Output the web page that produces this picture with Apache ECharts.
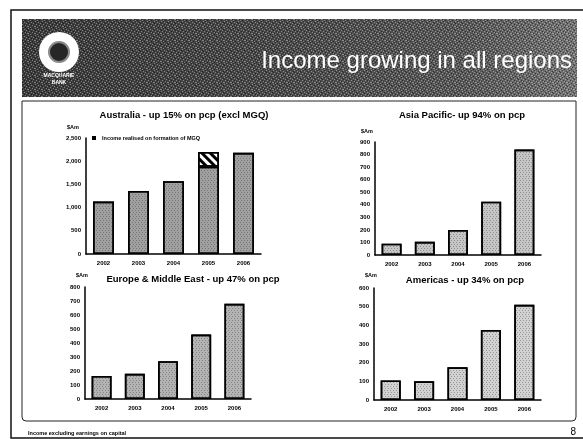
<!DOCTYPE html>
<html>
<head>
<meta charset="utf-8">
<script src="https://cdn.jsdelivr.net/npm/echarts@6/dist/echarts.min.js"></script>
<style>
  html, body { margin: 0; padding: 0; background: #fff; }
  #chart { width: 583px; height: 439px; }
</style>
</head>
<body>
<div id="chart"></div>
<script>
// Income by region, $Am
var years = ['2002', '2003', '2004', '2005', '2006'];

var australia = [1130, 1360, 1570, 1880, 2180];
var australiaMGQ = [null, null, null, 320, null];   // income realised on formation of MGQ
var asiaPacific = [90, 105, 200, 425, 840];
var europeME = [165, 180, 270, 460, 680];
var americas = [105, 100, 175, 375, 510];

var ausTicks = ['0', '500', '1,000', '1,500', '2,000', '2,500'];
var asiaTicks = ['0', '100', '200', '300', '400', '500', '600', '700', '800', '900'];
var europeTicks = ['0', '100', '200', '300', '400', '500', '600', '700', '800'];
var americasTicks = ['0', '100', '200', '300', '400', '500', '600'];

var FONT = '"Liberation Sans", Arial, sans-serif';

// small speckle tile laid over the header band
function speckleTile() {
  var c = document.createElement('canvas');
  c.width = 7; c.height = 7;
  var g = c.getContext('2d');
  var light = [[0, 0], [3, 1], [5, 2], [1, 3], [4, 4], [6, 5], [2, 6], [0, 5]];
  var dark = [[2, 0], [6, 1], [0, 2], [3, 3], [5, 4], [1, 5], [4, 6]];
  g.fillStyle = 'rgba(255,255,255,0.35)';
  light.forEach(function (p) { g.fillRect(p[0], p[1], 1, 1); });
  g.fillStyle = 'rgba(0,0,0,0.45)';
  dark.forEach(function (p) { g.fillRect(p[0], p[1], 1, 1); });
  return c;
}

function stipple(base) {
  return {
    color: base,
    borderColor: '#000',
    borderWidth: 1.6,
    decal: {
      symbol: 'rect',
      symbolSize: 1,
      color: 'rgba(40,40,40,0.35)',
      dashArrayX: [[1, 2], [0, 1, 1, 1]],
      dashArrayY: [1, 1]
    }
  };
}

function yAxisFor(gi, max, step, labels) {
  return {
    gridIndex: gi, type: 'value', min: 0, max: max, interval: step,
    axisLine: { show: true, lineStyle: { color: '#000', width: 1.5 } },
    axisTick: { show: false },
    splitLine: { show: false },
    axisLabel: {
      margin: 5, color: '#000', fontSize: 6, fontWeight: 'bold', fontFamily: FONT,
      formatter: function (v) { return labels[Math.round(v / step)]; }
    }
  };
}

function xAxisFor(gi) {
  return {
    gridIndex: gi, type: 'category', data: years,
    axisLine: { show: true, lineStyle: { color: '#000', width: 1.5 } },
    axisTick: { show: false },
    axisLabel: { margin: 6, color: '#000', fontSize: 6, fontWeight: 'bold', fontFamily: FONT }
  };
}

function titleAt(text, x, y) {
  return {
    text: text, left: x, top: y, textAlign: 'center', padding: 0,
    textStyle: { fontSize: 9.5, fontWeight: 'bold', color: '#000', fontFamily: FONT }
  };
}

function smallText(t, x, y, align) {
  return {
    type: 'text', x: x, y: y,
    style: { text: t, fill: '#000', font: 'bold 5.5px ' + FONT, textAlign: align || 'center', textVerticalAlign: 'middle' }
  };
}

var chart = echarts.init(document.getElementById('chart'));

chart.setOption({
  backgroundColor: '#fff',
  animation: false,
  title: [
    titleAt('Australia - up 15% on pcp (excl MGQ)', 184, 110),
    titleAt('Asia Pacific- up 94% on pcp', 462, 110),
    titleAt('Europe & Middle East - up 47% on pcp', 193, 274),
    titleAt('Americas - up 34% on pcp', 465, 275)
  ],
  legend: {
    left: 92, top: 135, padding: 0, itemWidth: 4, itemHeight: 4, itemGap: 2,
    data: [{ name: 'Income realised on formation of MGQ', icon: 'rect', itemStyle: { color: '#000', borderWidth: 0, decal: 'none' } }],
    textStyle: { fontSize: 5.5, fontWeight: 'bold', color: '#000', fontFamily: FONT, padding: [0, 0, 0, 1] }
  },
  grid: [
    { left: 86, top: 138, width: 175, height: 116 },
    { left: 375, top: 142, width: 166, height: 113 },
    { left: 85, top: 287, width: 166, height: 112 },
    { left: 374, top: 288, width: 167, height: 112 }
  ],
  xAxis: [xAxisFor(0), xAxisFor(1), xAxisFor(2), xAxisFor(3)],
  yAxis: [
    yAxisFor(0, 2500, 500, ausTicks),
    yAxisFor(1, 900, 100, asiaTicks),
    yAxisFor(2, 800, 100, europeTicks),
    yAxisFor(3, 600, 100, americasTicks)
  ],
  series: [
    { name: 'Australia', type: 'bar', xAxisIndex: 0, yAxisIndex: 0, stack: 'aus', barWidth: '60%',
      data: australia, itemStyle: stipple('#a0a0a0') },
    { name: 'Income realised on formation of MGQ', type: 'bar', xAxisIndex: 0, yAxisIndex: 0, stack: 'aus', barWidth: '60%',
      data: australiaMGQ,
      itemStyle: {
        color: '#fff', borderColor: '#000', borderWidth: 1.6,
        decal: { symbol: 'rect', symbolSize: 1, color: '#000', dashArrayX: [1, 0], dashArrayY: [3, 3], rotation: Math.PI / 4 }
      } },
    { name: 'Asia Pacific', type: 'bar', xAxisIndex: 1, yAxisIndex: 1, barWidth: '60%',
      data: asiaPacific, itemStyle: stipple('#c6c6c6') },
    { name: 'Europe & Middle East', type: 'bar', xAxisIndex: 2, yAxisIndex: 2, barWidth: '60%',
      data: europeME, itemStyle: stipple('#b4b4b4') },
    { name: 'Americas', type: 'bar', xAxisIndex: 3, yAxisIndex: 3, barWidth: '60%',
      data: americas, itemStyle: stipple('#d2d2d2') }
  ],
  graphic: [
    // slide frame
    { type: 'rect', z: -10, shape: { x: 11, y: 10, width: 580, height: 428 },
      style: { fill: 'none', stroke: '#111', lineWidth: 1.5 } },
    // header band with speckled texture
    { type: 'rect', z: -6, shape: { x: 22, y: 19, width: 555, height: 78 },
      style: { fill: new echarts.graphic.LinearGradient(0, 0, 1, 0.4, [
        { offset: 0, color: '#3a3a3a' }, { offset: 0.45, color: '#484848' },
        { offset: 0.8, color: '#585858' }, { offset: 1, color: '#727272' }]) } },
    { type: 'rect', z: -5, shape: { x: 22, y: 19, width: 555, height: 78 },
      style: { fill: { image: speckleTile(), repeat: 'repeat' } } },
    // logo
    { type: 'circle', shape: { cx: 59, cy: 52, r: 20 }, style: { fill: '#fff' } },
    { type: 'circle', shape: { cx: 59, cy: 52, r: 10 }, style: { fill: '#262626', stroke: '#8a8a8a', lineWidth: 2 } },
    { type: 'text', x: 59, y: 76, style: { text: 'MACQUARIE', fill: '#fff', font: 'bold 5px ' + FONT, textAlign: 'center', textVerticalAlign: 'middle' } },
    { type: 'text', x: 59, y: 83, style: { text: 'BANK', fill: '#fff', font: 'bold 5px ' + FONT, textAlign: 'center', textVerticalAlign: 'middle' } },
    // slide heading
    { type: 'text', x: 572, y: 61, style: { text: 'Income growing in all regions', fill: '#fff', font: '24px ' + FONT, textAlign: 'right', textVerticalAlign: 'middle' } },
    // chart panel box
    { type: 'rect', z: -5, shape: { x: 22, y: 101, width: 554, height: 320, r: [0, 0, 4, 4] },
      style: { fill: 'none', stroke: '#222', lineWidth: 1 } },
    // unit labels
    smallText('$Am', 73, 127),
    smallText('$Am', 367, 131),
    smallText('$Am', 82, 275),
    smallText('$Am', 371, 275),
    // footnote and page number
    smallText('Income excluding earnings on capital', 28, 433, 'left'),
    { type: 'text', x: 576, y: 432, style: { text: '8', fill: '#000', font: '10px ' + FONT, textAlign: 'right', textVerticalAlign: 'middle' } }
  ]
});
</script>
</body>
</html>
